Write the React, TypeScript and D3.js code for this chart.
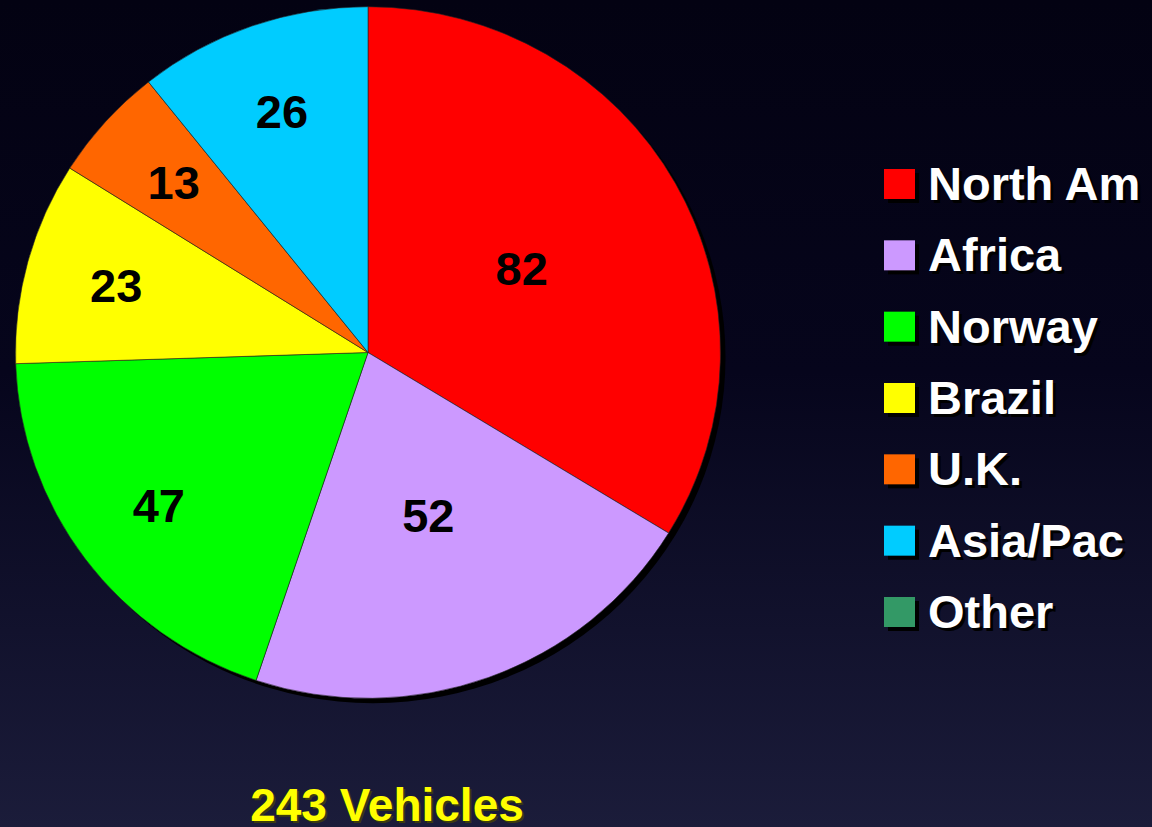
import React, { useEffect, useRef } from 'react';
import * as d3 from 'd3';

const regions = ['North Am', 'Africa', 'Norway', 'Brazil', 'U.K.', 'Asia/Pac', 'Other'];
const vehicles = [82, 52, 47, 23, 13, 26, 0];
const colors = ['#ff0000', '#cc99ff', '#00ff00', '#ffff00', '#ff6600', '#00ccff', '#339966'];
const totalLabel = '243 Vehicles';

export default function App() {
	const ref = useRef<SVGSVGElement>(null);

	useEffect(() => {
		const el = ref.current;
		if (!el) return;
		const svg = d3.select(el);
		svg.selectAll('*').remove();

		const W = 1152;
		const H = 827;
		const font = '"Liberation Sans", Arial, sans-serif';

		// Background
		const defs = svg.append('defs');
		const bg = defs
			.append('linearGradient')
			.attr('id', 'bg')
			.attr('x1', 0)
			.attr('y1', 0)
			.attr('x2', 0)
			.attr('y2', 1);
		bg.append('stop').attr('offset', '0%').attr('stop-color', '#030212');
		bg.append('stop').attr('offset', '45%').attr('stop-color', '#06051c');
		bg.append('stop').attr('offset', '100%').attr('stop-color', '#1b1c3a');
		svg.append('rect').attr('width', W).attr('height', H).attr('fill', 'url(#bg)');

		// Pie
		const cx = 368;
		const cy = 352.5;
		const r = 352.5;
		const squash = 0.981;

		const data = regions.map((name, i) => ({ name, value: vehicles[i], color: colors[i] }));
		const pie = d3
			.pie<any>()
			.sort(null)
			.value((d) => d.value);
		const arcs = pie(data).filter((a) => a.data.value > 0);
		const arc = d3.arc<any>().innerRadius(0).outerRadius(r);

		const g = svg.append('g').attr('transform', `translate(${cx},${cy}) scale(1,${squash})`);

		// drop shadow of the pie
		g.append('circle')
			.attr('cx', 5)
			.attr('cy', 5)
			.attr('r', r)
			.attr('fill', '#000');

		g.selectAll('path.slice')
			.data(arcs)
			.enter()
			.append('path')
			.attr('class', 'slice')
			.attr('d', arc)
			.attr('fill', (d) => d.data.color)
			.attr('stroke', '#222')
			.attr('stroke-width', 0.6);

		g.selectAll('text.val')
			.data(arcs)
			.enter()
			.append('text')
			.attr('class', 'val')
			.attr('transform', (d) => {
				const mid = (d.startAngle + d.endAngle) / 2;
				const lr = d.data.value >= 50 ? r * 0.5 : r * 0.74;
				return `translate(${lr * Math.sin(mid)},${-lr * Math.cos(mid)}) scale(1,${1 / squash})`;
			})
			.attr('text-anchor', 'middle')
			.attr('dy', '0.36em')
			.attr('font-family', font)
			.attr('font-weight', 'bold')
			.attr('font-size', 47)
			.attr('fill', '#000')
			.text((d) => d.data.value);

		// Legend
		const y = d3
			.scalePoint()
			.domain(regions)
			.range([184, 612]);

		const leg = svg
			.append('g')
			.selectAll('g')
			.data(data)
			.enter()
			.append('g')
			.attr('transform', (d) => `translate(884,${y(d.name)})`);

		leg.append('rect')
			.attr('x', 4)
			.attr('y', -11)
			.attr('width', 31)
			.attr('height', 30)
			.attr('fill', '#000');
		leg.append('rect')
			.attr('x', 0)
			.attr('y', -15)
			.attr('width', 31)
			.attr('height', 30)
			.attr('fill', (d) => d.color);
		leg.append('text')
			.attr('x', 47)
			.attr('y', 19)
			.attr('font-family', font)
			.attr('font-weight', 'bold')
			.attr('font-size', 47)
			.attr('fill', '#000')
			.text((d) => d.name);
		leg.append('text')
			.attr('x', 44)
			.attr('y', 16)
			.attr('font-family', font)
			.attr('font-weight', 'bold')
			.attr('font-size', 47)
			.attr('fill', '#fff')
			.text((d) => d.name);

		// Total
		svg.append('text')
			.attr('x', 389)
			.attr('y', 823)
			.attr('text-anchor', 'middle')
			.attr('font-family', font)
			.attr('font-weight', 'bold')
			.attr('font-size', 46)
			.attr('fill', '#3a3a10')
			.text(totalLabel);
		svg.append('text')
			.attr('x', 387)
			.attr('y', 821)
			.attr('text-anchor', 'middle')
			.attr('font-family', font)
			.attr('font-weight', 'bold')
			.attr('font-size', 46)
			.attr('fill', '#ffff00')
			.text(totalLabel);
	}, []);

	return (
		<svg
			ref={ref}
			width={1152}
			height={827}
			style={{ position: 'fixed', top: 0, left: 0, display: 'block' }}></svg>
	);
}
